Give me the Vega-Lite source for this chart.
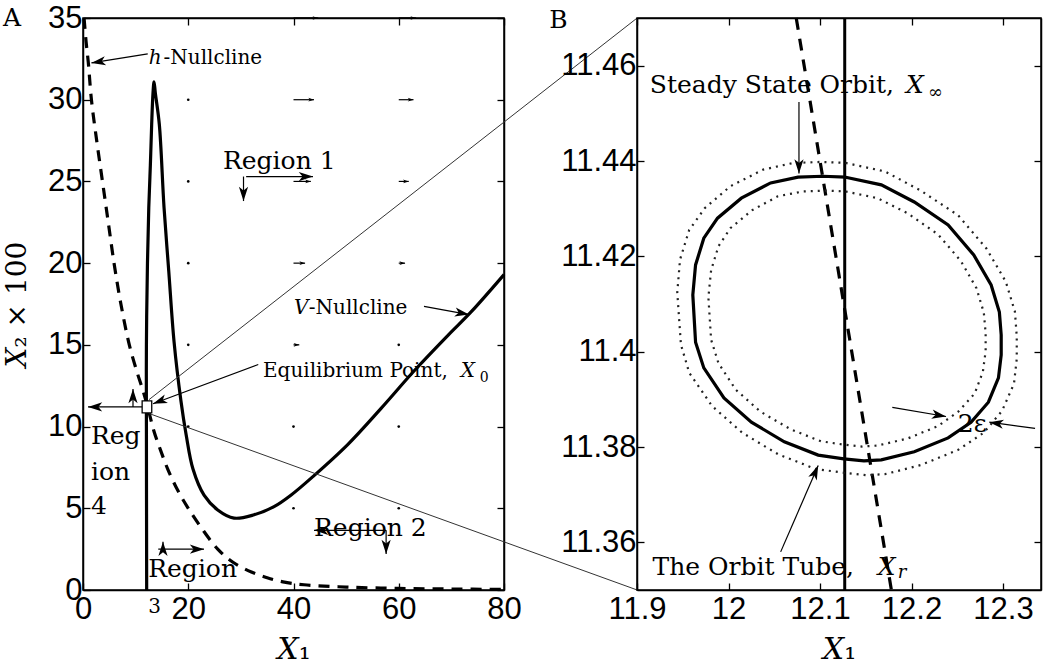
{
  "$schema": "https://vega.github.io/schema/vega-lite/v6.json",
  "background": "white",
  "padding": {"left": 2, "top": 1, "right": 2, "bottom": 2},
  "bounds": "flush",
  "spacing": 133,
  "config": {
    "view": {"stroke": "black", "strokeWidth": 1.5},
    "axis": {
      "labelFont": "Liberation Sans", "labelFontSize": 31, "labelColor": "black",
      "titleFont": "DejaVu Serif", "titleFontSize": 28, "titleFontWeight": "normal", "titleColor": "black",
      "domainColor": "black", "domainWidth": 1.5, "tickColor": "black", "tickWidth": 1.3, "tickSize": -7,
      "grid": false, "labelFlush": false, "labelOverlap": false
    }
  },
  "datasets": {
    "hA": [
      {"x":0.2,"y":35},{"x":0.6,"y":33.5},{"x":1.0,"y":32.3},{"x":1.6,"y":30},{"x":2.6,"y":27.5},{"x":3.7,"y":25},{"x":4.8,"y":22.5},{"x":5.9,"y":20},{"x":7.2,"y":17.5},{"x":8.8,"y":15},{"x":10.3,"y":13.3},{"x":11.3,"y":12.3},{"x":12.2,"y":11.3},{"x":13.5,"y":9.7},{"x":14.8,"y":8.5},{"x":16.1,"y":7.4},{"x":18,"y":6.1},{"x":20,"y":5},{"x":22.5,"y":3.8},{"x":25.6,"y":2.5},{"x":28.5,"y":1.7},{"x":32,"y":1.1},{"x":35,"y":0.75},{"x":38,"y":0.5},{"x":42,"y":0.32},{"x":50,"y":0.18},{"x":60,"y":0.1},{"x":70,"y":0.06},{"x":80,"y":0.04}
    ],
    "vA": [
      {"x":12.1,"y":0},{"x":12.05,"y":10},{"x":12.05,"y":15},{"x":12.25,"y":20},{"x":12.5,"y":23.4},{"x":12.8,"y":26},{"x":13.05,"y":28.5},{"x":13.3,"y":30.4},{"x":13.5,"y":31.1},{"x":13.75,"y":30.4},{"x":14.5,"y":28.5},{"x":15.4,"y":23.4},{"x":16.3,"y":19.5},{"x":17.3,"y":15.2},{"x":18.6,"y":11.6},{"x":19.6,"y":9.5},{"x":20.9,"y":7.4},{"x":23.0,"y":5.8},{"x":25.6,"y":4.9},{"x":28.7,"y":4.4},{"x":32.5,"y":4.6},{"x":36.3,"y":5.1},{"x":39.5,"y":5.8},{"x":43.9,"y":7.0},{"x":50.3,"y":8.9},{"x":56.6,"y":11.1},{"x":62.9,"y":13.4},{"x":69.4,"y":15.6},{"x":73.7,"y":17.0},{"x":80,"y":19.3}
    ],
    "quiver": [
      {"x":40,"y":35,"x2":44.7},{"x":60,"y":35,"x2":63.3},{"x":40,"y":30,"x2":43.9},{"x":60,"y":30,"x2":62.8},{"x":40,"y":25,"x2":43.3},{"x":60,"y":25,"x2":61.9},{"x":40,"y":20,"x2":42.2},{"x":60,"y":20,"x2":61.2},{"x":40,"y":15,"x2":41.1}
    ],
    "dots": [
      {"x":20,"y":30},{"x":20,"y":25},{"x":20,"y":20},{"x":20,"y":15},{"x":20,"y":10},{"x":40,"y":10},{"x":60,"y":10},{"x":60,"y":15},{"x":40,"y":5},{"x":60,"y":5}
    ],
    "notesA": [
      {"x":12.3,"y":32.8,"x2":1.6,"y2":32.25,"ang":261},
      {"x":33.3,"y":13.8,"x2":13.3,"y2":11.4,"ang":249.6},
      {"x":64.8,"y":17.35,"x2":73.35,"y2":16.85,"ang":100.3},
      {"x":31,"y":25.3,"x2":43.7,"y2":25.3,"ang":90},
      {"x":30.5,"y":25.3,"x2":30.5,"y2":23.8,"ang":180},
      {"x":57.6,"y":3.65,"x2":43.9,"y2":3.65,"ang":270},
      {"x":57.6,"y":3.65,"x2":57.6,"y2":2.2,"ang":180},
      {"x":14.3,"y":2.5,"x2":23,"y2":2.5,"ang":90},
      {"x":15.2,"y":2.4,"x2":15.2,"y2":2.95,"ang":0},
      {"x":11.6,"y":11.2,"x2":0.95,"y2":11.2,"ang":270},
      {"x":9.5,"y":11.2,"x2":9.5,"y2":12.3,"ang":0}
    ],
    "equil": [{"x":12.15,"y":11.2}],
    "zoomLines": [
      {"x":12.55,"y":11.65,"x2":105.3,"y2":35},
      {"x":12.55,"y":10.8,"x2":105.3,"y2":0}
    ],
    "bigA": [
      {"t":"Region 1","x":26.6,"y":25.75},{"t":"Region 2","x":43.9,"y":3.3},{"t":"Region","x":12.4,"y":0.8},
      {"t":"Reg","x":1.5,"y":8.95},{"t":"ion","x":1.5,"y":6.74},{"t":"4","x":1.5,"y":4.66},{"t":"A","x":-15.2,"y":34.5}
    ],
    "smallA": [
      {"t":"-Nullcline","x":15.3,"y":32.2},{"t":"-Nullcline","x":42.9,"y":16.86},{"t":"Equilibrium Point,","x":34.2,"y":13.06},{"t":"3","x":12.4,"y":-1.4}
    ],
    "italA": [
      {"t":"h","x":12.5,"y":32.2},{"t":"V","x":40.1,"y":16.86},{"t":"X","x":71.8,"y":13.06}
    ],
    "subA": [{"t":"0","x":75.4,"y":12.75}],
    "hB": [{"x":12.074,"y":11.47},{"x":12.178,"y":11.35}],
    "vB": [{"x":12.127,"y":11.35},{"x":12.127,"y":11.47}],
    "orbit": [
      {"x":12.128,"y":11.4366},{"x":12.167,"y":11.435},{"x":12.203,"y":11.4314},{"x":12.240,"y":11.4266},{"x":12.268,"y":11.4203},{"x":12.287,"y":11.414},{"x":12.296,"y":11.4083},{"x":12.298,"y":11.4035},{"x":12.298,"y":11.3993},{"x":12.295,"y":11.3945},{"x":12.284,"y":11.3894},{"x":12.265,"y":11.3852},{"x":12.240,"y":11.3819},{"x":12.203,"y":11.379},{"x":12.167,"y":11.3773},{"x":12.148,"y":11.3771},{"x":12.126,"y":11.3775},{"x":12.098,"y":11.3783},{"x":12.061,"y":11.3811},{"x":12.025,"y":11.3852},{"x":11.995,"y":11.3903},{"x":11.973,"y":11.3966},{"x":11.964,"y":11.402},{"x":11.961,"y":11.4119},{"x":11.964,"y":11.4182},{"x":11.973,"y":11.4238},{"x":11.988,"y":11.428},{"x":12.014,"y":11.4322},{"x":12.046,"y":11.4354},{"x":12.076,"y":11.4366},{"x":12.103,"y":11.4368},{"x":12.128,"y":11.4366}
    ],
    "tube": [
      {"s":"outer","x":12.128,"y":11.4396},{"s":"outer","x":12.171,"y":11.4378},{"s":"outer","x":12.210,"y":11.4338},{"s":"outer","x":12.251,"y":11.4286},{"s":"outer","x":12.282,"y":11.4216},{"s":"outer","x":12.303,"y":11.4147},{"s":"outer","x":12.313,"y":11.4084},{"s":"outer","x":12.315,"y":11.4032},{"s":"outer","x":12.315,"y":11.3985},{"s":"outer","x":12.312,"y":11.3933},{"s":"outer","x":12.299,"y":11.3876},{"s":"outer","x":12.279,"y":11.383},{"s":"outer","x":12.251,"y":11.3794},{"s":"outer","x":12.210,"y":11.3762},{"s":"outer","x":12.171,"y":11.3743},{"s":"outer","x":12.150,"y":11.3741},{"s":"outer","x":12.126,"y":11.3746},{"s":"outer","x":12.095,"y":11.3754},{"s":"outer","x":12.054,"y":11.3785},{"s":"outer","x":12.015,"y":11.383},{"s":"outer","x":11.982,"y":11.3886},{"s":"outer","x":11.957,"y":11.3956},{"s":"outer","x":11.948,"y":11.4015},{"s":"outer","x":11.944,"y":11.4124},{"s":"outer","x":11.947,"y":11.4193},{"s":"outer","x":11.957,"y":11.4255},{"s":"outer","x":11.974,"y":11.4301},{"s":"outer","x":12.002,"y":11.4347},{"s":"outer","x":12.038,"y":11.4382},{"s":"outer","x":12.071,"y":11.4396},{"s":"outer","x":12.100,"y":11.4398},{"s":"outer","x":12.128,"y":11.4396},
      {"s":"inner","x":12.128,"y":11.4336},{"s":"inner","x":12.163,"y":11.4322},{"s":"inner","x":12.196,"y":11.429},{"s":"inner","x":12.229,"y":11.4246},{"s":"inner","x":12.254,"y":11.419},{"s":"inner","x":12.271,"y":11.4133},{"s":"inner","x":12.279,"y":11.4082},{"s":"inner","x":12.281,"y":11.4039},{"s":"inner","x":12.281,"y":11.4001},{"s":"inner","x":12.278,"y":11.3958},{"s":"inner","x":12.269,"y":11.3912},{"s":"inner","x":12.251,"y":11.3874},{"s":"inner","x":12.229,"y":11.3844},{"s":"inner","x":12.196,"y":11.3818},{"s":"inner","x":12.163,"y":11.3803},{"s":"inner","x":12.146,"y":11.3801},{"s":"inner","x":12.126,"y":11.3805},{"s":"inner","x":12.101,"y":11.3812},{"s":"inner","x":12.068,"y":11.3837},{"s":"inner","x":12.035,"y":11.3874},{"s":"inner","x":12.008,"y":11.392},{"s":"inner","x":11.989,"y":11.3976},{"s":"inner","x":11.981,"y":11.4025},{"s":"inner","x":11.978,"y":11.4114},{"s":"inner","x":11.981,"y":11.4171},{"s":"inner","x":11.989,"y":11.4221},{"s":"inner","x":12.002,"y":11.4259},{"s":"inner","x":12.026,"y":11.4297},{"s":"inner","x":12.054,"y":11.4326},{"s":"inner","x":12.081,"y":11.4336},{"s":"inner","x":12.106,"y":11.4338},{"s":"inner","x":12.128,"y":11.4336}
    ],
    "notesB": [
      {"x":12.077,"y":11.4524,"x2":12.077,"y2":11.4374,"ang":180},
      {"x":12.057,"y":11.358,"x2":12.098,"y2":11.3761,"ang":23.3},
      {"x":12.179,"y":11.3883,"x2":12.2377,"y2":11.3864,"ang":99.6},
      {"x":12.335,"y":11.3839,"x2":12.285,"y2":11.3852,"ang":278.5}
    ],
    "bigB": [
      {"t":"Steady State Orbit,","x":11.914,"y":11.4543},{"t":"The Orbit Tube,","x":11.917,"y":11.3532},{"t":"2ε","x":12.2505,"y":11.3831},{"t":"B","x":11.804,"y":11.4679}
    ],
    "italB": [{"t":"X","x":12.194,"y":11.4543},{"t":"X","x":12.163,"y":11.3532}],
    "subB": [{"t":"∞","x":12.218,"y":11.4532},{"t":"r","x":12.185,"y":11.3525}]
  },
  "hconcat": [
    {
      "width": 421,
      "height": 572,
      "resolve": {"axis": {"x": "independent", "y": "independent"}},
      "layer": [
        {
          "data": {"name": "vA"},
          "mark": {"type": "line", "color": "black", "strokeWidth": 3.2, "interpolate": "catmull-rom"},
          "encoding": {
            "x": {"field": "x", "type": "quantitative", "scale": {"domain": [0, 80], "nice": false, "zero": false},
                  "axis": {"orient": "bottom", "values": [0, 20, 40, 60, 80], "title": "𝑋₁", "titleFontSize": 30, "labelPadding": 11, "titlePadding": 10}},
            "y": {"field": "y", "type": "quantitative", "scale": {"domain": [0, 35], "nice": false, "zero": false},
                  "axis": {"orient": "left", "values": [0, 5, 10, 15, 20, 25, 30, 35], "title": "𝑋₂ × 100", "labelPadding": 8, "titlePadding": 16}},
            "order": {"value": null}
          }
        },
        {
          "data": {"name": "hA"},
          "mark": {"type": "line", "color": "black", "strokeWidth": 3.2, "strokeDash": [11, 8], "interpolate": "catmull-rom"},
          "encoding": {
            "x": {"field": "x", "type": "quantitative", "axis": {"orient": "top", "values": [0, 20, 40, 60, 80], "labels": false, "title": null}},
            "y": {"field": "y", "type": "quantitative", "axis": {"orient": "right", "values": [0, 5, 10, 15, 20, 25, 30, 35], "labels": false, "title": null}},
            "order": {"value": null}
          }
        },
        {
          "data": {"name": "dots"},
          "mark": {"type": "point", "filled": true, "color": "black", "size": 7, "opacity": 1},
          "encoding": {
            "x": {"field": "x", "type": "quantitative", "axis": null},
            "y": {"field": "y", "type": "quantitative", "axis": null}
          }
        },
        {
          "data": {"name": "quiver"},
          "mark": {"type": "rule", "color": "black", "strokeWidth": 1.2},
          "encoding": {
            "x": {"field": "x", "type": "quantitative", "axis": null},
            "x2": {"field": "x2"},
            "y": {"field": "y", "type": "quantitative", "axis": null}
          }
        },
        {
          "data": {"name": "quiver"},
          "mark": {"type": "point", "shape": "M0,0L0.55,1.7L0,1.25L-0.55,1.7Z", "filled": true, "color": "black", "size": 45, "opacity": 1, "angle": 90},
          "encoding": {
            "x": {"field": "x2", "type": "quantitative", "axis": null},
            "y": {"field": "y", "type": "quantitative", "axis": null}
          }
        },
        {
          "data": {"name": "zoomLines"},
          "mark": {"type": "rule", "color": "#333", "strokeWidth": 1, "clip": false},
          "encoding": {
            "x": {"field": "x", "type": "quantitative", "axis": null},
            "y": {"field": "y", "type": "quantitative", "axis": null},
            "x2": {"field": "x2"},
            "y2": {"field": "y2"}
          }
        },
        {
          "data": {"name": "notesA"},
          "mark": {"type": "rule", "color": "black", "strokeWidth": 1.2},
          "encoding": {
            "x": {"field": "x", "type": "quantitative", "axis": null},
            "y": {"field": "y", "type": "quantitative", "axis": null},
            "x2": {"field": "x2"},
            "y2": {"field": "y2"}
          }
        },
        {
          "data": {"name": "notesA"},
          "mark": {"type": "point", "shape": "M0,0L0.55,1.7L0,1.25L-0.55,1.7Z", "filled": true, "color": "black", "size": 280, "opacity": 1},
          "encoding": {
            "x": {"field": "x2", "type": "quantitative", "axis": null},
            "y": {"field": "y2", "type": "quantitative", "axis": null},
            "angle": {"field": "ang", "type": "quantitative", "scale": null}
          }
        },
        {
          "data": {"name": "equil"},
          "mark": {"type": "point", "shape": "M-0.8,-1H0.8V1H-0.8Z", "filled": true, "fill": "white", "stroke": "black", "strokeWidth": 1.3, "size": 144, "opacity": 1},
          "encoding": {
            "x": {"field": "x", "type": "quantitative", "axis": null},
            "y": {"field": "y", "type": "quantitative", "axis": null}
          }
        },
        {
          "data": {"name": "bigA"},
          "mark": {"type": "text", "font": "DejaVu Serif", "fontSize": 25, "align": "left", "baseline": "alphabetic", "color": "black"},
          "encoding": {
            "x": {"field": "x", "type": "quantitative", "axis": null},
            "y": {"field": "y", "type": "quantitative", "axis": null},
            "text": {"field": "t"}
          }
        },
        {
          "data": {"name": "smallA"},
          "mark": {"type": "text", "font": "DejaVu Serif", "fontSize": 20, "align": "left", "baseline": "alphabetic", "color": "black"},
          "encoding": {
            "x": {"field": "x", "type": "quantitative", "axis": null},
            "y": {"field": "y", "type": "quantitative", "axis": null},
            "text": {"field": "t"}
          }
        },
        {
          "data": {"name": "italA"},
          "mark": {"type": "text", "font": "DejaVu Serif", "fontSize": 20, "fontStyle": "italic", "align": "left", "baseline": "alphabetic", "color": "black"},
          "encoding": {
            "x": {"field": "x", "type": "quantitative", "axis": null},
            "y": {"field": "y", "type": "quantitative", "axis": null},
            "text": {"field": "t"}
          }
        },
        {
          "data": {"name": "subA"},
          "mark": {"type": "text", "font": "DejaVu Serif", "fontSize": 14, "align": "left", "baseline": "alphabetic", "color": "black"},
          "encoding": {
            "x": {"field": "x", "type": "quantitative", "axis": null},
            "y": {"field": "y", "type": "quantitative", "axis": null},
            "text": {"field": "t"}
          }
        }
      ]
    },
    {
      "width": 404,
      "height": 572,
      "resolve": {"axis": {"x": "independent", "y": "independent"}},
      "layer": [
        {
          "data": {"name": "vB"},
          "mark": {"type": "line", "color": "black", "strokeWidth": 3},
          "encoding": {
            "x": {"field": "x", "type": "quantitative", "scale": {"domain": [11.9, 12.3415], "nice": false, "zero": false},
                  "axis": {"orient": "bottom", "values": [11.9, 12, 12.1, 12.2, 12.3], "format": ".3~r", "title": "𝑋₁", "titleFontSize": 30, "labelPadding": 11, "titlePadding": 10}},
            "y": {"field": "y", "type": "quantitative", "scale": {"domain": [11.35, 11.47], "nice": false, "zero": false},
                  "axis": {"orient": "left", "values": [11.36, 11.38, 11.4, 11.42, 11.44, 11.46], "format": ".4~r", "title": null, "labelPadding": 8}},
            "order": {"value": null}
          }
        },
        {
          "data": {"name": "hB"},
          "mark": {"type": "line", "color": "black", "strokeWidth": 3.2, "strokeDash": [12, 9]},
          "encoding": {
            "x": {"field": "x", "type": "quantitative", "axis": {"orient": "top", "values": [11.9, 12, 12.1, 12.2, 12.3], "labels": false, "title": null}},
            "y": {"field": "y", "type": "quantitative", "axis": {"orient": "right", "values": [11.36, 11.38, 11.4, 11.42, 11.44, 11.46], "labels": false, "title": null}},
            "order": {"value": null}
          }
        },
        {
          "data": {"name": "tube"},
          "mark": {"type": "line", "color": "#222", "strokeWidth": 2.2, "strokeDash": [2, 5]},
          "encoding": {
            "x": {"field": "x", "type": "quantitative", "axis": null},
            "y": {"field": "y", "type": "quantitative", "axis": null},
            "detail": {"field": "s"},
            "order": {"value": null}
          }
        },
        {
          "data": {"name": "orbit"},
          "mark": {"type": "line", "color": "black", "strokeWidth": 3.2},
          "encoding": {
            "x": {"field": "x", "type": "quantitative", "axis": null},
            "y": {"field": "y", "type": "quantitative", "axis": null},
            "order": {"value": null}
          }
        },
        {
          "data": {"name": "notesB"},
          "mark": {"type": "rule", "color": "black", "strokeWidth": 1.2, "clip": false},
          "encoding": {
            "x": {"field": "x", "type": "quantitative", "axis": null},
            "y": {"field": "y", "type": "quantitative", "axis": null},
            "x2": {"field": "x2"},
            "y2": {"field": "y2"}
          }
        },
        {
          "data": {"name": "notesB"},
          "mark": {"type": "point", "shape": "M0,0L0.55,1.7L0,1.25L-0.55,1.7Z", "filled": true, "color": "black", "size": 280, "opacity": 1},
          "encoding": {
            "x": {"field": "x2", "type": "quantitative", "axis": null},
            "y": {"field": "y2", "type": "quantitative", "axis": null},
            "angle": {"field": "ang", "type": "quantitative", "scale": null}
          }
        },
        {
          "data": {"name": "bigB"},
          "mark": {"type": "text", "font": "DejaVu Serif", "fontSize": 25, "align": "left", "baseline": "alphabetic", "color": "black"},
          "encoding": {
            "x": {"field": "x", "type": "quantitative", "axis": null},
            "y": {"field": "y", "type": "quantitative", "axis": null},
            "text": {"field": "t"}
          }
        },
        {
          "data": {"name": "italB"},
          "mark": {"type": "text", "font": "DejaVu Serif", "fontSize": 25, "fontStyle": "italic", "align": "left", "baseline": "alphabetic", "color": "black"},
          "encoding": {
            "x": {"field": "x", "type": "quantitative", "axis": null},
            "y": {"field": "y", "type": "quantitative", "axis": null},
            "text": {"field": "t"}
          }
        },
        {
          "data": {"name": "subB"},
          "mark": {"type": "text", "font": "DejaVu Serif", "fontSize": 18, "fontStyle": "italic", "align": "left", "baseline": "alphabetic", "color": "black"},
          "encoding": {
            "x": {"field": "x", "type": "quantitative", "axis": null},
            "y": {"field": "y", "type": "quantitative", "axis": null},
            "text": {"field": "t"}
          }
        }
      ]
    }
  ]
}
